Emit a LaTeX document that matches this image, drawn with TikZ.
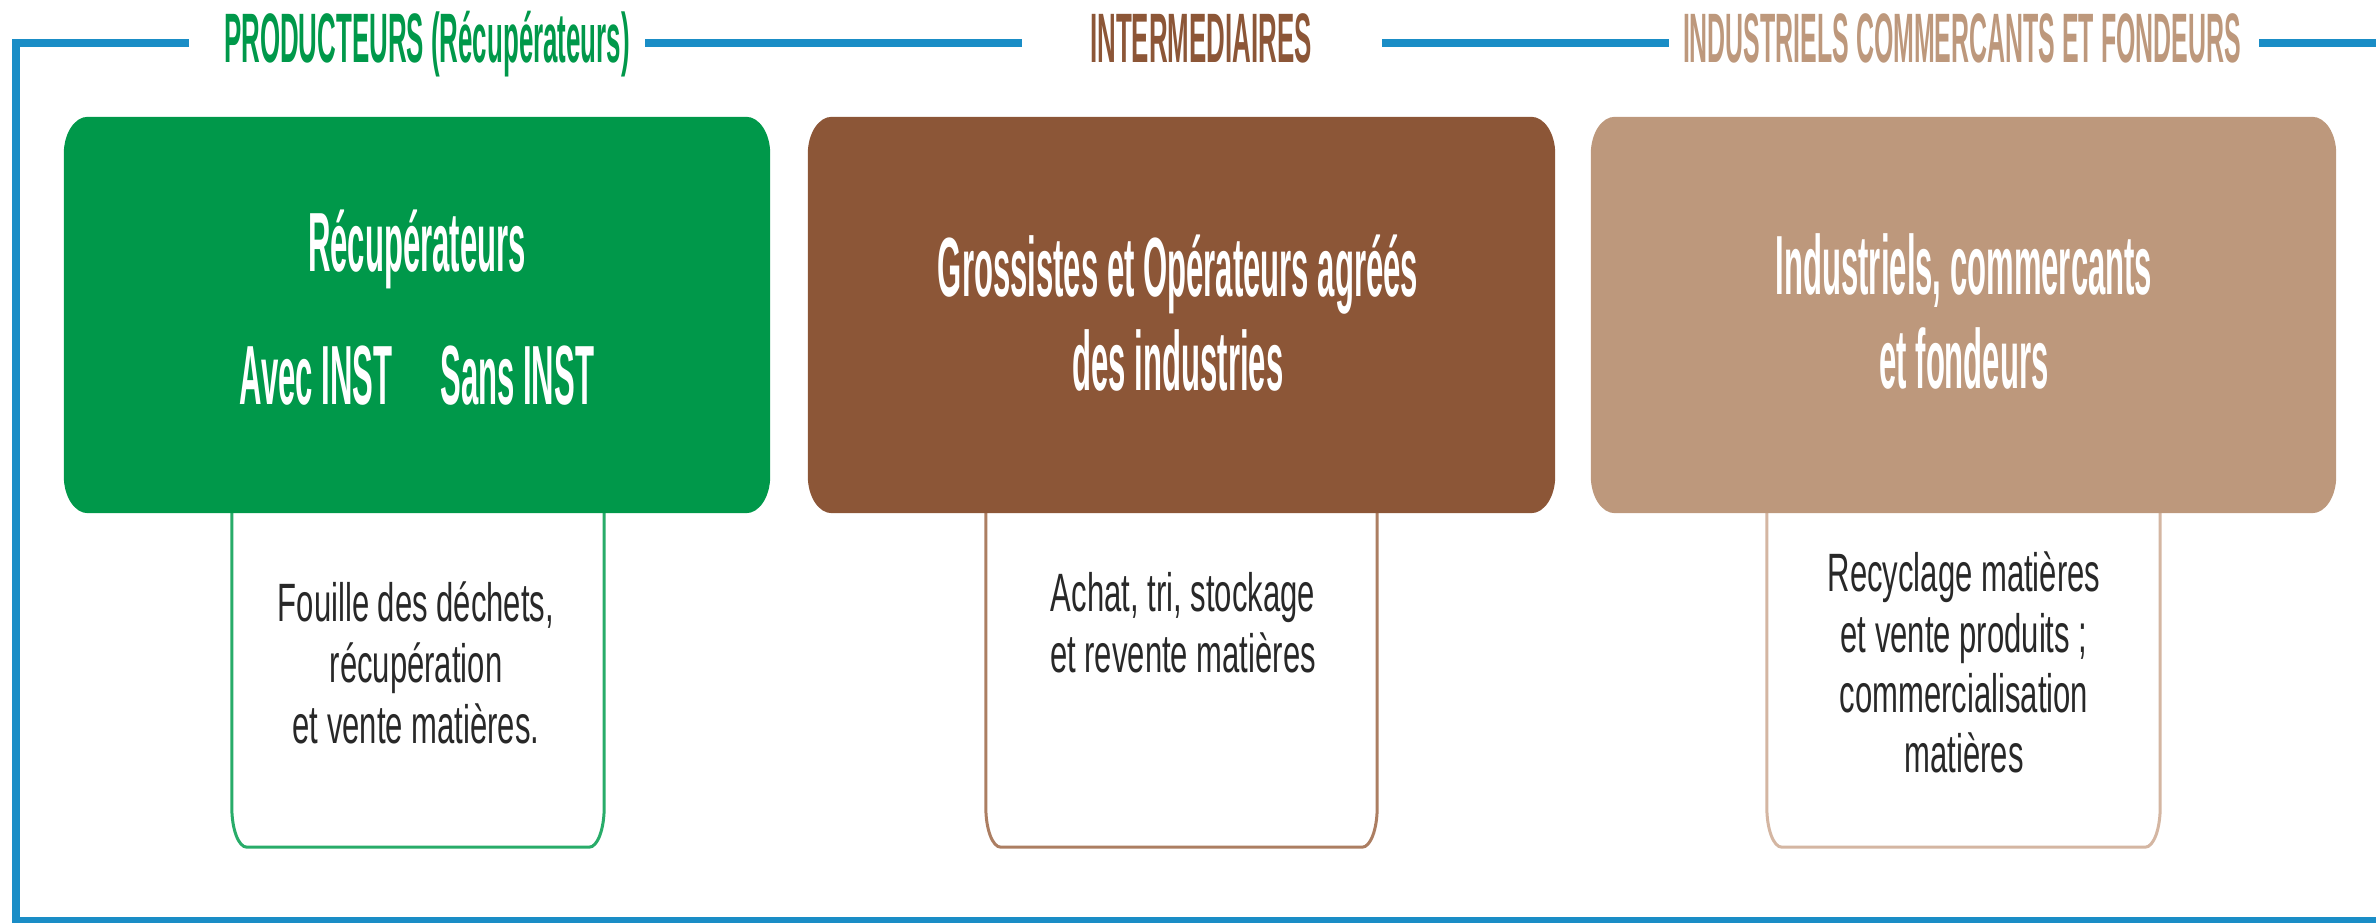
\documentclass[tikz,border=0pt]{standalone}
\usepackage{fontspec}
\usepackage{graphicx}
\newfontfamily\condbold{Liberation Sans}[FakeStretch=0.37]
\newfontfamily\condboldn{Liberation Sans}[FakeStretch=0.356]
\newfontfamily\condreg{Liberation Sans}[FakeStretch=0.575]
\definecolor{frameblue}{RGB}{26,141,198}
\definecolor{gcol}{RGB}{0,152,74}
\definecolor{bcol}{RGB}{140,86,55}
\definecolor{tcol}{RGB}{189,152,124}
\definecolor{glow}{RGB}{40,172,105}
\definecolor{blow}{RGB}{172,126,98}
\definecolor{tlow}{RGB}{212,182,162}
\definecolor{lowtext}{RGB}{40,40,40}
\newcommand\stacklines[1]{\begin{tabular}[t]{@{}c@{}}#1\end{tabular}}
\newcommand\ellrect[3]{([xshift=#2]#1.north west) -- ([xshift=-#2]#1.north east) arc[start angle=90,end angle=0,x radius=#2,y radius=#3] -- ([yshift=#3]#1.south east) arc[start angle=0,end angle=-90,x radius=#2,y radius=#3] -- ([xshift=#2]#1.south west) arc[start angle=270,end angle=180,x radius=#2,y radius=#3] -- ([yshift=-#3]#1.north west) arc[start angle=180,end angle=90,x radius=#2,y radius=#3] -- cycle}
\newcommand\lowpath[3]{(#1.north west) -- ([yshift=#3]#1.south west) arc[start angle=180,end angle=270,x radius=#2,y radius=#3] -- ([xshift=-#2]#1.south east) arc[start angle=270,end angle=360,x radius=#2,y radius=#3] -- (#1.north east)}
\tikzset{
  frame/.style={draw=frameblue, line width=8pt},
  hdr/.style={anchor=base, inner sep=0pt, font=\condbold\bfseries\fontsize{70}{84}\selectfont},
  ttl/.style={anchor=base, inner sep=0pt, text=white, font=\condbold\bfseries\fontsize{84}{94}\selectfont},
  lowtxt/.style={anchor=base, inner sep=0pt, text=lowtext, font=\condreg\fontsize{54}{61}\selectfont},
  boxshape/.style={inner sep=0pt, minimum height=396pt},
  lowshape/.style={inner sep=0pt, minimum height=367pt},
  lowline/.style={line width=3pt, fill=white},
}
\begin{document}
\begin{tikzpicture}[x=1pt,y=1pt]
\useasboundingbox (0,0) rectangle (2376,923);
% frame
\coordinate (f1a) at (189,880);
\coordinate (fc) at (16,880);
\coordinate (fb) at (16,2);
\coordinate (fe) at (2390,2);
\draw[frame, line join=miter] (f1a) -- (fc) -- (fb) -- (fe);
\coordinate (f2a) at (645,880); \coordinate (f2b) at (1022,880);
\coordinate (f3a) at (1382,880); \coordinate (f3b) at (1669,880);
\coordinate (f4a) at (2259,880); \coordinate (f4b) at (2390,880);
\draw[frame] (f2a) -- (f2b);
\draw[frame] (f3a) -- (f3b);
\draw[frame] (f4a) -- (f4b);
% headers
\node[hdr, text=gcol] (h1) at (427,860) {PRODUCTEURS (Récupérateurs)};
\node[hdr, text=bcol] (h2) at (1201,860) {INTERMEDIAIRES};
\node[hdr, text=tcol, font=\condboldn\bfseries\fontsize{70}{84}\selectfont] (h3) at (1962,860) {INDUSTRIELS COMMERCANTS ET FONDEURS};
% shape holders
\node[boxshape, minimum width=706pt] (gbox) at (417,608) {};
\node[boxshape, minimum width=747pt] (bbox) at (1181.5,608) {};
\node[boxshape, minimum width=745pt] (tbox) at (1963.5,608) {};
\node[lowshape, minimum width=372pt] (glowb) at (418,259.5) {};
\node[lowshape, minimum width=391pt] (blowb) at (1181.5,259.5) {};
\node[lowshape, minimum width=393pt] (tlowb) at (1963.5,259.5) {};
% lower boxes
\draw[lowline, draw=glow] \lowpath{glowb}{15pt}{40pt};
\draw[lowline, draw=blow] \lowpath{blowb}{15pt}{40pt};
\draw[lowline, draw=tlow] \lowpath{tlowb}{15pt}{40pt};
% coloured boxes
\fill[gcol] \ellrect{gbox}{24pt}{37pt};
\fill[bcol] \ellrect{bbox}{24pt}{37pt};
\fill[tcol] \ellrect{tbox}{24pt}{37pt};
% titles
\node[ttl, font=\condbold\bfseries\fontsize{84}{133}\selectfont] (gt) at (417,651) {\stacklines{Récupérateurs\\Avec INST\hspace{48pt}Sans INST}};
\node[ttl] (bt) at (1178,626) {\stacklines{Grossistes et Opérateurs agréés\\des industries}};
\node[ttl] (tt) at (1964,628) {\stacklines{Industriels, commercants\\et fondeurs}};
% lower texts
\node[lowtxt] (gl) at (416,301) {\stacklines{Fouille des déchets,\\récupération\\et vente matières.}};
\node[lowtxt] (bl) at (1183,311) {\stacklines{Achat, tri, stockage\\et revente matières}};
\node[lowtxt, font=\condreg\fontsize{54}{60.3}\selectfont] (tl) at (1964,331) {\stacklines{Recyclage matières\\et vente produits ;\\commercialisation\\matières}};
\end{tikzpicture}
\end{document}
